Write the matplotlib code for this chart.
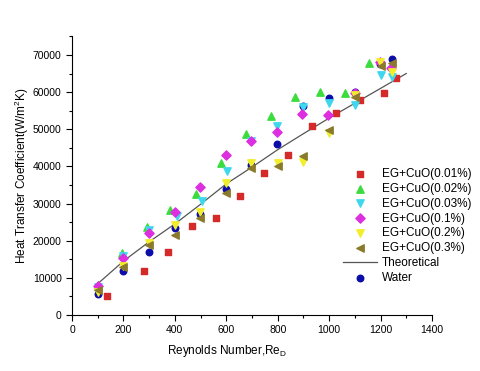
import matplotlib.pyplot as plt
from matplotlib.ticker import MultipleLocator

plt.rcParams['font.family'] = ['Liberation Sans', 'DejaVu Sans']

# EG+CuO(0.01%)
re_001 = [135, 280, 373, 466, 561, 654, 746, 840, 934, 1027, 1120, 1213, 1260]
h_001 = [5100, 11850, 17000, 24000, 26200, 32100, 38300, 43100, 51000, 54300, 57800, 59700, 63700]
# EG+CuO(0.02%)
re_002 = [100, 193, 290, 383, 482, 580, 675, 773, 866, 965, 1061, 1155]
h_002 = [8200, 16700, 23600, 28300, 32500, 40800, 48800, 53600, 58600, 59900, 59700, 67900]
# EG+CuO(0.03%)
re_003 = [100, 200, 300, 407, 504, 601, 698, 799, 899, 1000, 1099, 1200, 1246]
h_003 = [7500, 16000, 23000, 26650, 30600, 38800, 46700, 50900, 55900, 57000, 56500, 64600, 64000]
# EG+CuO(0.1%)
re_01 = [100, 200, 299, 400, 499, 598, 698, 798, 896, 997, 1099, 1197, 1242]
h_01 = [7900, 15250, 22200, 27650, 34400, 43000, 46900, 49200, 54100, 53700, 59700, 68000, 66400]
# EG+CuO(0.2%)
re_02 = [100, 200, 299, 400, 499, 598, 698, 800, 900, 1000, 1100, 1197, 1244]
h_02 = [6300, 13200, 19300, 24200, 27800, 35600, 40800, 40900, 41300, 48900, 59300, 68000, 65500]
# EG+CuO(0.3%)
re_03 = [100, 200, 299, 400, 499, 598, 698, 800, 900, 1000, 1100, 1200, 1246]
h_03 = [6700, 12800, 18800, 21500, 26200, 32750, 39500, 40200, 42800, 49800, 58800, 67000, 67700]
# Water
re_w = [100, 200, 299, 400, 499, 598, 698, 799, 899, 1000, 1100, 1197, 1244]
h_w = [5650, 11900, 17050, 23300, 27300, 33900, 40400, 46000, 56300, 58300, 60000, 67500, 68800]
# Theoretical
re_t = [100, 200, 300, 400, 500, 600, 700, 800, 900, 1000, 1100, 1200, 1300]
h_t = [8400, 14500, 19700, 24500, 29800, 35300, 39800, 44500, 48800, 53000, 57000, 61000, 65000]

fig = plt.figure(figsize=(4.8, 3.71), dpi=100)
ax = fig.add_axes([0.15, 0.151, 0.75, 0.751])

ms = 22
ax.scatter(re_001, h_001, s=ms, marker='s', color='#d42a2a', label='EG+CuO(0.01%)', zorder=3)
ax.scatter(re_002, h_002, s=ms+6, marker='^', color='#3bdc3b', label='EG+CuO(0.02%)', zorder=3)
ax.scatter(re_003, h_003, s=ms+6, marker='v', color='#3ed8ee', label='EG+CuO(0.03%)', zorder=3)
ax.scatter(re_01, h_01, s=ms, marker='D', color='#dd2ee0', label='EG+CuO(0.1%)', zorder=3)
ax.scatter(re_02, h_02, s=ms+6, marker='v', color='#f2ee2a', label='EG+CuO(0.2%)', zorder=3)
ax.scatter(re_03, h_03, s=ms+6, marker='<', color='#8a7a2c', label='EG+CuO(0.3%)', zorder=3)
ax.plot(re_t, h_t, color='#555555', lw=0.9, label='Theoretical', zorder=2)
ax.scatter(re_w, h_w, s=ms, marker='o', color='#0c0ca8', label='Water', zorder=2.5)

ax.set_xlim(0, 1400)
ax.set_ylim(0, 75000)
ax.xaxis.set_major_locator(MultipleLocator(200))
ax.xaxis.set_minor_locator(MultipleLocator(100))
ax.yaxis.set_major_locator(MultipleLocator(10000))
ax.yaxis.set_minor_locator(MultipleLocator(5000))
ax.spines['top'].set_visible(False)
ax.spines['right'].set_visible(False)
ax.tick_params(which='major', direction='out', length=4, width=0.8, labelsize=7.5)
ax.tick_params(which='minor', direction='out', length=2.5, width=0.8)

ax.set_xlabel('Reynolds Number,Re$_\\mathregular{D}$', fontsize=8.5, labelpad=8)
ax.xaxis.set_label_coords(0.43, -0.1)
ax.set_ylabel('Heat Transfer Coefficient(W/m$^\\mathregular{2}$K)', fontsize=8.5, labelpad=1)

ax.legend(loc='upper left', bbox_to_anchor=(0.714, 0.548), bbox_transform=fig.transFigure,
          frameon=False, fontsize=8.5, labelspacing=0.25, handlelength=2.9, handletextpad=0.4,
          borderaxespad=0, borderpad=0)

plt.savefig('out.png', dpi=100)
